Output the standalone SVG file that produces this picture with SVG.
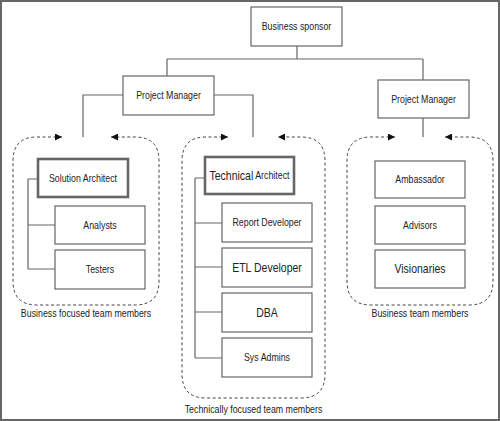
<svg xmlns="http://www.w3.org/2000/svg" width="500" height="421" viewBox="0 0 500 421">
<style>
.box{fill:#fff;stroke:#666;stroke-width:1.2}
.thick{fill:#fff;stroke:#666;stroke-width:2.6}
.ln{fill:none;stroke:#666;stroke-width:1.2}
.dash{fill:none;stroke:#444;stroke-width:1;stroke-dasharray:3,2.5}
text{font-family:"Liberation Sans",Arial,sans-serif;fill:#222;text-anchor:middle;dominant-baseline:central;font-size:10.5px}
.big{font-size:12.5px}
.cap{font-size:10.5px}
</style>
<defs>
<marker id="ah" viewBox="0 0 10 10" refX="10" refY="5" markerWidth="7" markerHeight="7" markerUnits="userSpaceOnUse" orient="auto-start-reverse">
<path d="M0,0 L10,5 L0,10 z" fill="#111"/>
</marker>
</defs>
<rect x="1" y="1" width="498" height="419" fill="#fff" stroke="#666" stroke-width="2"/>

<g id="connectors">
<path class="ln" d="M297 46 V59 M167 59 H423 M167 59 V76 M423 59 V80"/>
<path class="ln" d="M123 95 H83 V137 M214 95 H253 V137 M423 118 V137"/>
<path class="ln" d="M28 179 V269 M28 179 H38 M28 225 H55 M28 269 H55"/>
<path class="ln" d="M195 178 V358 M195 178 H205 M195 223 H222 M195 267 H222 M195 312 H222 M195 358 H222"/>
<path class="dash" marker-start="url(#ah)" marker-end="url(#ah)" d="M62 137 H37 Q13 137 13 161 V281 Q13 305 37 305 H135 Q159 305 159 281 V161 Q159 137 135 137 H111"/>
<path class="dash" marker-start="url(#ah)" marker-end="url(#ah)" d="M228 137 H206 Q182 137 182 161 V374 Q182 398 206 398 H301 Q325 398 325 374 V161 Q325 137 301 137 H278"/>
<path class="dash" marker-start="url(#ah)" marker-end="url(#ah)" d="M395 137 H371 Q347 137 347 161 V281 Q347 305 371 305 H469 Q493 305 493 281 V161 Q493 137 469 137 H445"/>
</g>

<g id="sponsor"><rect class="box" x="251" y="7" width="91" height="39"/><text transform="translate(296.5 26.5) scale(0.84 1)">Business sponsor</text></g>
<g id="pm-left"><rect class="box" x="123" y="76" width="91" height="39"/><text transform="translate(168.5 95.5) scale(0.84 1)">Project Manager</text></g>
<g id="pm-right"><rect class="box" x="378" y="80" width="91" height="38"/><text transform="translate(423.5 99) scale(0.84 1)">Project Manager</text></g>

<g id="solution-architect"><rect class="thick" x="38" y="159" width="90" height="38"/><text transform="translate(83 178) scale(0.84 1)">Solution Architect</text></g>
<g id="analysts"><rect class="box" x="55" y="206" width="90" height="38"/><text transform="translate(100 225) scale(0.84 1)">Analysts</text></g>
<g id="testers"><rect class="box" x="55" y="250" width="90" height="39"/><text transform="translate(100 269.5) scale(0.84 1)">Testers</text></g>
<g id="label-business-focused"><text class="cap" transform="translate(86 313) scale(0.84 1)">Business focused team members</text></g>

<g id="technical-architect"><rect class="thick" x="205" y="157" width="89" height="37"/><text transform="translate(249.5 175.5) scale(0.84 1)"><tspan font-size="12.5">Technical</tspan> Architect</text></g>
<g id="report-developer"><rect class="box" x="222" y="203" width="90" height="39"/><text transform="translate(267 222.5) scale(0.84 1)">Report Developer</text></g>
<g id="etl-developer"><rect class="box" x="222" y="248" width="90" height="39"/><text class="big" transform="translate(267 267.5) scale(0.84 1)">ETL Developer</text></g>
<g id="dba"><rect class="box" x="222" y="293" width="90" height="39"/><text class="big" transform="translate(267 312.5) scale(0.84 1)">DBA</text></g>
<g id="sys-admins"><rect class="box" x="222" y="338" width="90" height="39"/><text transform="translate(267 357.5) scale(0.84 1)">Sys Admins</text></g>
<g id="label-technically-focused"><text class="cap" transform="translate(253.5 409) scale(0.84 1)">Technically focused team members</text></g>

<g id="ambassador"><rect class="box" x="375" y="161" width="90" height="37"/><text transform="translate(420 179.5) scale(0.84 1)">Ambassador</text></g>
<g id="advisors"><rect class="box" x="375" y="206" width="90" height="38"/><text transform="translate(420 225) scale(0.84 1)">Advisors</text></g>
<g id="visionaries"><rect class="box" x="375" y="250" width="90" height="38"/><text class="big" transform="translate(420 269) scale(0.84 1)">Visionaries</text></g>
<g id="label-business"><text class="cap" transform="translate(420 313) scale(0.84 1)">Business team members</text></g>
</svg>
